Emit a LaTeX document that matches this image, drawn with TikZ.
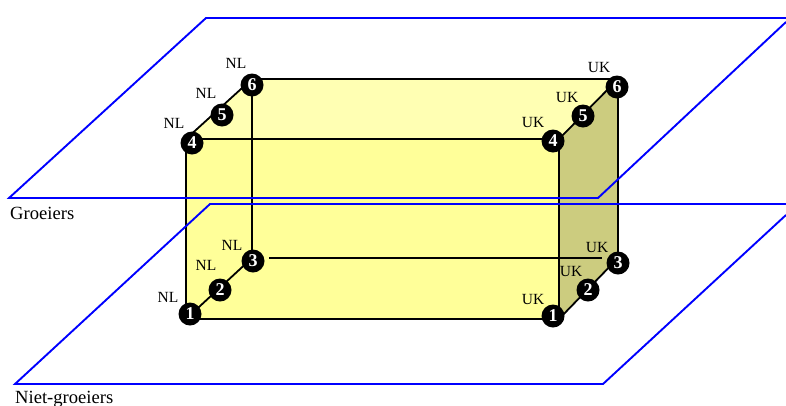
\documentclass[tikz,border=0pt]{standalone}
\usepackage{fontspec}
\setmainfont{Liberation Serif}
\definecolor{frontyellow}{HTML}{FFFF99}
\definecolor{topyellow}{HTML}{FFFFB3}
\definecolor{sideyellow}{HTML}{CCCC7F}
\tikzset{
  ball/.style={circle, fill=black, text=white, inner sep=0pt, minimum size=23pt,
    font=\fontsize{18}{18}\selectfont\bfseries},
  country/.style={font=\fontsize{15.5}{16}\selectfont, inner sep=0pt},
  planename/.style={font=\fontsize{18.6}{20}\selectfont, inner sep=0pt, anchor=base west},
  plane/.style={blue, line width=1.9pt},
  edge/.style={black, line width=1.8pt}
}
\begin{document}
\begin{tikzpicture}[x=1pt, y=-1pt]
  \useasboundingbox (0,0) rectangle (786,405);

  % Corners of the block
  \coordinate (ftl) at (186,139);
  \coordinate (ftr) at (559,139);
  \coordinate (fbl) at (186,319);
  \coordinate (fbr) at (559,319);
  \coordinate (btl) at (252,79);
  \coordinate (btr) at (618,79);
  \coordinate (bbl) at (252,258);
  \coordinate (bbr) at (618,258);

  % Faces
  \fill[topyellow] (ftl) -- (btl) -- (btr) -- (ftr) -- cycle;
  \fill[frontyellow] (ftl) -- (ftr) -- (fbr) -- (fbl) -- cycle;
  \fill[sideyellow] (ftr) -- (btr) -- (bbr) -- (fbr) -- cycle;

  % Block edges
  \coordinate (backl) at (269,258);
  \coordinate (backr) at (602,258);
  \draw[edge] (ftl) -- (ftr) -- (fbr) -- (fbl) -- cycle;
  \draw[edge] (ftl) -- (btl) -- (btr) -- (ftr);
  \draw[edge] (btl) -- (bbl) -- (fbl);
  \draw[edge] (btr) -- (bbr) -- (fbr);
  \draw[edge] (backl) -- (backr);

  % Balls: NL on the left, UK on the right
  \foreach \name/\x/\y/\num in {nla/190/314/1, nlb/220/290/2, nlc/253/261/3,
                                nld/192/143/4, nle/222/115/5, nlf/252/85/6,
                                uka/553/316/1, ukb/588/290/2, ukc/618/263/3,
                                ukd/553/141/4, uke/583/116/5, ukf/617/87/6}
    \node[ball] (\name) at (\x,\y) {\num};

  % Country labels
  \foreach \name/\x/\y in {la/168/297, lb/206/265, lc/232/245,
                           ld/174/123, le/206/93, lf/236/63}
    \node[country] (\name) at (\x,\y) {NL};
  \foreach \name/\x/\y in {ra/533/299, rb/571/271, rc/597/247,
                           rd/533/122, re/567/97, rf/599/67}
    \node[country] (\name) at (\x,\y) {UK};

  % Upper plane
  \draw[plane] (786,22) -- (598,198) -- (9,198) -- (206,18) -- (786,18);
  \node[planename] (groei) at (10,219) {Groeiers};

  % Lower plane
  \draw[plane] (786,215) -- (603,384) -- (15,384) -- (210,204) -- (786,204);
  \node[planename] (nietgroei) at (15,403) {Niet-groeiers};
\end{tikzpicture}
\end{document}
